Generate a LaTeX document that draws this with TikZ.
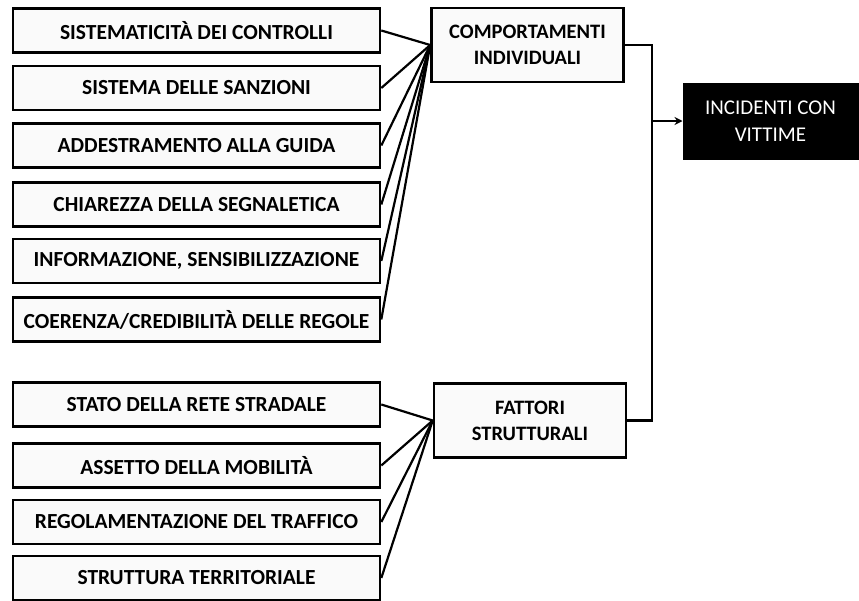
\documentclass[tikz,border=0pt]{standalone}
\usepackage{fontspec}
\setmainfont{Carlito}
\usetikzlibrary{arrows.meta}
\begin{document}
\begin{tikzpicture}[x=1pt,y=-1pt,
  leftbox/.style={draw, line width=2.6pt, fill=black!2, minimum width=367pt, minimum height=44pt, inner sep=0pt, font=\fontsize{21.5}{24}\selectfont\bfseries},
  midbox/.style={draw, line width=2.6pt, fill=black!2, minimum width=192pt, minimum height=74pt, inner sep=0pt, align=center, font=\fontsize{20.5}{26}\selectfont\bfseries},
  conn/.style={line width=2.2pt},
]
\useasboundingbox (0,0) rectangle (859,600);
\node[leftbox] (a1) at (196.5,30.5) {SISTEMATICITÀ DEI CONTROLLI};
\node[leftbox] (a2) at (196.5,88) {SISTEMA DELLE SANZIONI};
\node[leftbox] (a3) at (196.5,145.5) {ADDESTRAMENTO ALLA GUIDA};
\node[leftbox] (a4) at (196.5,204.5) {CHIAREZZA DELLA SEGNALETICA};
\node[leftbox] (a5) at (196.5,261) {INFORMAZIONE, SENSIBILIZZAZIONE};
\node[leftbox] (a6) at (196.5,319.5) {COERENZA/CREDIBILITÀ DELLE REGOLE};
\node[leftbox] (b1) at (196.5,404.5) {STATO DELLA RETE STRADALE};
\node[leftbox] (b2) at (196.5,465.5) {ASSETTO DELLA MOBILITÀ};
\node[leftbox] (b3) at (196.5,522) {REGOLAMENTAZIONE DEL TRAFFICO};
\node[leftbox] (b4) at (196.5,578) {STRUTTURA TERRITORIALE};
\node[midbox] (c) at (527.5,45) {COMPORTAMENTI\\INDIVIDUALI};
\node[midbox] (f) at (530,420.5) {FATTORI\\STRUTTURALI};
\node[draw, line width=1pt, fill=black, text=white, minimum width=175pt, minimum height=76pt, inner sep=0pt, align=center, font=\fontsize{21}{27}\selectfont] (v) at (770.5,121) {INCIDENTI CON\\VITTIME};
\foreach \n in {a1,a2,a3,a4,a5,a6} \draw[conn] (\n.east) -- (c.west);
\foreach \n in {b1,b2,b3,b4} \draw[conn] (\n.east) -- (f.west);
\coordinate (j1) at (652,45);
\coordinate (j2) at (652,420.5);
\coordinate (j3) at (652,121);
\draw[conn] (c.east) -- (j1) -- (j2) -- (f.east);
\draw[conn, -{Stealth[length=8pt,width=8pt]}] (j3) -- (v.west);
\end{tikzpicture}
\end{document}
